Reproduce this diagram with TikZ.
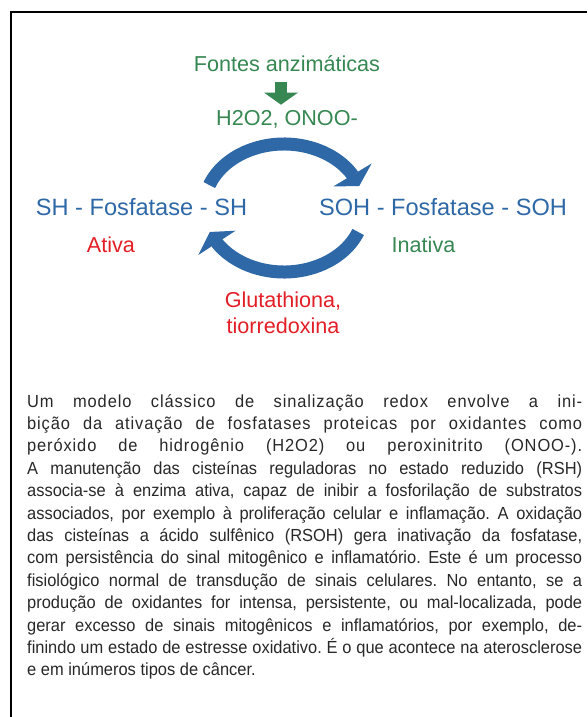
\documentclass[tikz,border=0pt]{standalone}
\usepackage{fontspec}
\setmainfont{Liberation Sans}
\newfontfamily\legendafont[FakeStretch=0.94]{Liberation Sans}
\usetikzlibrary{arrows.meta,bending}
\definecolor{fosfblue}{RGB}{46,104,166}
\definecolor{fontgreen}{RGB}{54,135,82}
\definecolor{redred}{RGB}{226,30,38}
\definecolor{textgray}{RGB}{40,40,40}
\newcommand{\espaco}[1]{{\addfontfeature{LetterSpace=5}#1}}

\begin{document}
\begin{tikzpicture}[x=1pt,y=1pt,>={Triangle[width=44pt,length=13pt]}]
  \tikzstyle{enzima}=[text=fosfblue,font=\fontsize{23.6}{28}\selectfont,anchor=base,inner sep=0pt]
  \tikzstyle{rotulo}=[font=\fontsize{21.6}{26}\selectfont,anchor=base,inner sep=0pt]
  \tikzstyle{ciclo}=[draw=fosfblue,line width=13pt,->]
  \tikzstyle{texto}=[anchor=base west,inner sep=0pt,text width=555pt,align=justify,
                     text=textgray,font=\legendafont\fontsize{17.5}{22.4}\selectfont]

  \useasboundingbox (0,0) rectangle (587,-717);
  % moldura
  \draw[line width=1.6pt] (587,-12) -- (11,-12) -- (11,-717);

  \node[rotulo,text=fontgreen] (fontes)     at (287,-71)    {Fontes anzimáticas};
  \node[rotulo,text=fontgreen] (oxidantes)  at (287,-125)   {H2O2, ONOO-};
  \node[enzima]                (ativa)      at (141.5,-215) {SH - Fosfatase - SH};
  \node[enzima]                (inativa)    at (443,-215)   {SOH - Fosfatase - SOH};
  \node[rotulo,text=redred]    (lblativa)   at (111,-252)   {Ativa};
  \node[rotulo,text=fontgreen] (lblinativa) at (423.5,-252) {Inativa};
  \node[rotulo,text=redred,align=center] (redutores) at (283,-333) {Glutathiona,\\tiorredoxina};

  \draw[fontgreen,line width=12pt,-{Triangle[width=33pt,length=12pt]},
        shorten <=11pt,shorten >=5pt]
    ([xshift=-6pt]fontes.south) -- ([xshift=-6pt]oxidantes.north);

  \coordinate (centro) at (284,-208);
  \coordinate (oxida ini) at ([shift={(159:80 and 64)}]centro);
  \coordinate (reduz ini) at ([shift={(-22:80 and 64)}]centro);
  \draw[ciclo] (oxida ini) arc[start angle=159,end angle=20,x radius=80,y radius=64];
  \draw[ciclo] (reduz ini) arc[start angle=-22,end angle=-158,x radius=80,y radius=64];

  \node[texto] (legenda) at (27,-407) {\frenchspacing\tolerance=10000\hyphenpenalty=10000
    \espaco{Um modelo clássico de sinalização redox envolve a ini-}\linebreak
    \espaco{bição da ativação de fosfatases proteicas por oxidantes como}\linebreak
    \espaco{peróxido de hidrogênio (H2O2) ou peroxinitrito (ONOO-).}\linebreak
    A manutenção das cisteínas reguladoras no estado reduzido (RSH)\linebreak
    associa-se à enzima ativa, capaz de inibir a fosforilação de substratos\linebreak
    associados, por exemplo à proliferação celular e inflamação. A oxidação\linebreak
    das cisteínas a ácido sulfênico (RSOH) gera inativação da fosfatase,\linebreak
    com persistência do sinal mitogênico e inflamatório. Este é um processo\linebreak
    fisiológico normal de transdução de sinais celulares. No entanto, se a\linebreak
    produção de oxidantes for intensa, persistente, ou mal-localizada, pode\linebreak
    gerar excesso de sinais mitogênicos e inflamatórios, por exemplo, de-\linebreak
    finindo um estado de estresse oxidativo. É o que acontece na aterosclerose\linebreak
    e em inúmeros tipos de câncer.};
\end{tikzpicture}
\end{document}
